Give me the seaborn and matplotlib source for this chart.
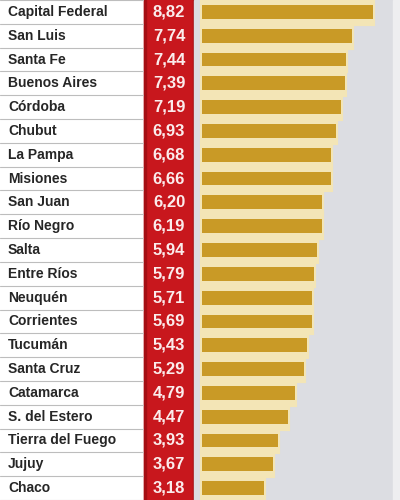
import pandas as pd
import matplotlib.pyplot as plt
import seaborn as sns

provincias = ['Capital Federal', 'San Luis', 'Santa Fe', 'Buenos Aires', 'Córdoba',
              'Chubut', 'La Pampa', 'Misiones', 'San Juan', 'Río Negro', 'Salta',
              'Entre Ríos', 'Neuquén', 'Corrientes', 'Tucumán', 'Santa Cruz',
              'Catamarca', 'S. del Estero', 'Tierra del Fuego', 'Jujuy', 'Chaco']
valores = [8.82, 7.74, 7.44, 7.39, 7.19, 6.93, 6.68, 6.66, 6.20, 6.19, 5.94,
           5.79, 5.71, 5.69, 5.43, 5.29, 4.79, 4.47, 3.93, 3.67, 3.18]

df = pd.DataFrame({'provincia': provincias, 'valor': valores})

sns.set_style("white")
plt.rcParams['font.family'] = ['Liberation Sans Narrow', 'Liberation Sans', 'DejaVu Sans']

W, H = 400, 500
x0 = 202          # pixel where the bars start
ppu = 19.35       # pixels per unit
row_px = 24.15
top_row = -7 / row_px

fig = plt.figure(figsize=(4, 5), dpi=100)
ax = fig.add_axes([0, 0, 1, 1])
ax.set_xlim(-x0 / ppu, (W - x0) / ppu)
ax.set_ylim(top_row + H / row_px, top_row)

def px(x):
    return (x - x0) / ppu

# background columns
ax.axvspan(px(144), px(194), color='#c8171d', zorder=0)
ax.axvspan(px(144), px(145.5), color='#a50f14', zorder=0)
ax.axvspan(px(192.5), px(194), color='#a50f14', zorder=0)
ax.axvspan(px(194), px(393), color='#dcdde2', zorder=0)
ax.axvspan(px(393), px(400), color='#eeeef0', zorder=0)

# cream band behind bars, then gold bars
sns.barplot(data=df, x='valor', y='provincia', orient='h', width=1.0,
            color='#f3e5b6', edgecolor='#f3e5b6', linewidth=3, saturation=1, ax=ax, zorder=1)
sns.barplot(data=df, x='valor', y='provincia', orient='h', width=0.58,
            color='#c99a26', edgecolor='none', saturation=1, ax=ax, zorder=2)

# left table
for i, (p, v) in enumerate(zip(provincias, valores)):
    ax.text(px(8), i, p, ha='left', va='center', fontsize=10,
            fontweight='bold', color='#262626', zorder=3)
    ax.text(px(169), i, f'{v:.2f}'.replace('.', ','), ha='center', va='center',
            fontsize=12, fontweight='bold', color='#fbecec', zorder=3)
for i in range(-1, len(provincias)):
    ax.plot([px(0), px(143)], [i + 0.5, i + 0.5], color='#bdbdbd', lw=0.8, zorder=3)

ax.set_axis_off()
fig.savefig('out.png', dpi=100)
